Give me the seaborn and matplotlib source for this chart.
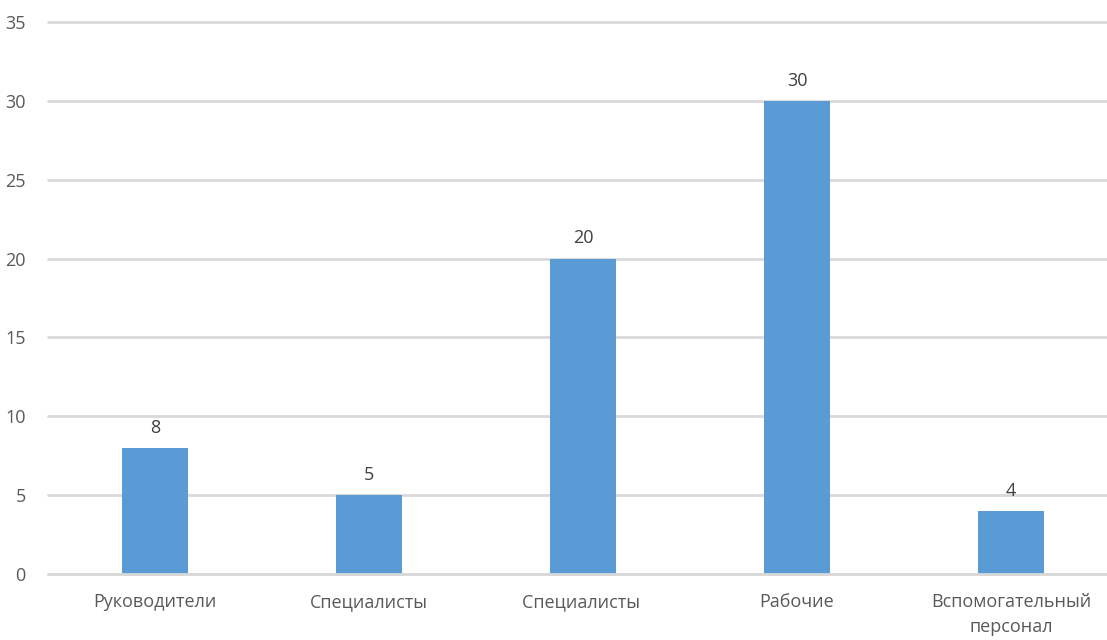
import matplotlib
matplotlib.use("Agg")
import matplotlib.pyplot as plt
import seaborn as sns
import pandas as pd

categories = ["Руководители", "Специалисты", "Специалисты ", "Рабочие", "Вспомогательный\nперсонал"]
values = [8, 5, 20, 30, 4]
y_ticks = [0, 5, 10, 15, 20, 25, 30, 35]

sns.set_theme(style="white")
plt.rcParams["font.family"] = ["Open Sans", "DejaVu Sans"]

text_color = "#595959"
bar_color = "#5b9bd5"
grid_color = "#d9d9d9"

df = pd.DataFrame({"category": categories, "value": values})

fig = plt.figure(figsize=(11.07, 6.4), dpi=100)
ax = fig.add_axes([48 / 1107, 66 / 640, 1070 / 1107, 552 / 640])

sns.barplot(data=df, x="category", y="value", color=bar_color, width=0.31,
            saturation=1, ax=ax, zorder=3, edgecolor="none", linewidth=0)

ax.set_ylim(0, 35)
ax.set_xlim(-0.5, len(categories) - 0.5)
ax.set_yticks(y_ticks)
ax.yaxis.grid(True, color=grid_color, linewidth=2, zorder=0)
ax.set_axisbelow(True)
for gl in ax.get_ygridlines():
    gl.set_clip_on(False)
# baseline drawn over the bars
ax.axhline(0, color=grid_color, linewidth=2, zorder=4, clip_on=False)
for s in ax.spines.values():
    s.set_visible(False)
ax.tick_params(axis="both", length=0, colors=text_color, labelsize=13)
ax.tick_params(axis="y", pad=16)
ax.tick_params(axis="x", pad=14)
for lbl in ax.get_xticklabels():
    lbl.set_linespacing(1.45)
ax.set_xlabel("")
ax.set_ylabel("")

for container in ax.containers:
    ax.bar_label(container, labels=[str(v) for v in values], padding=8,
                 color="#404040", fontsize=13)

fig.savefig("out.png", dpi=100)
